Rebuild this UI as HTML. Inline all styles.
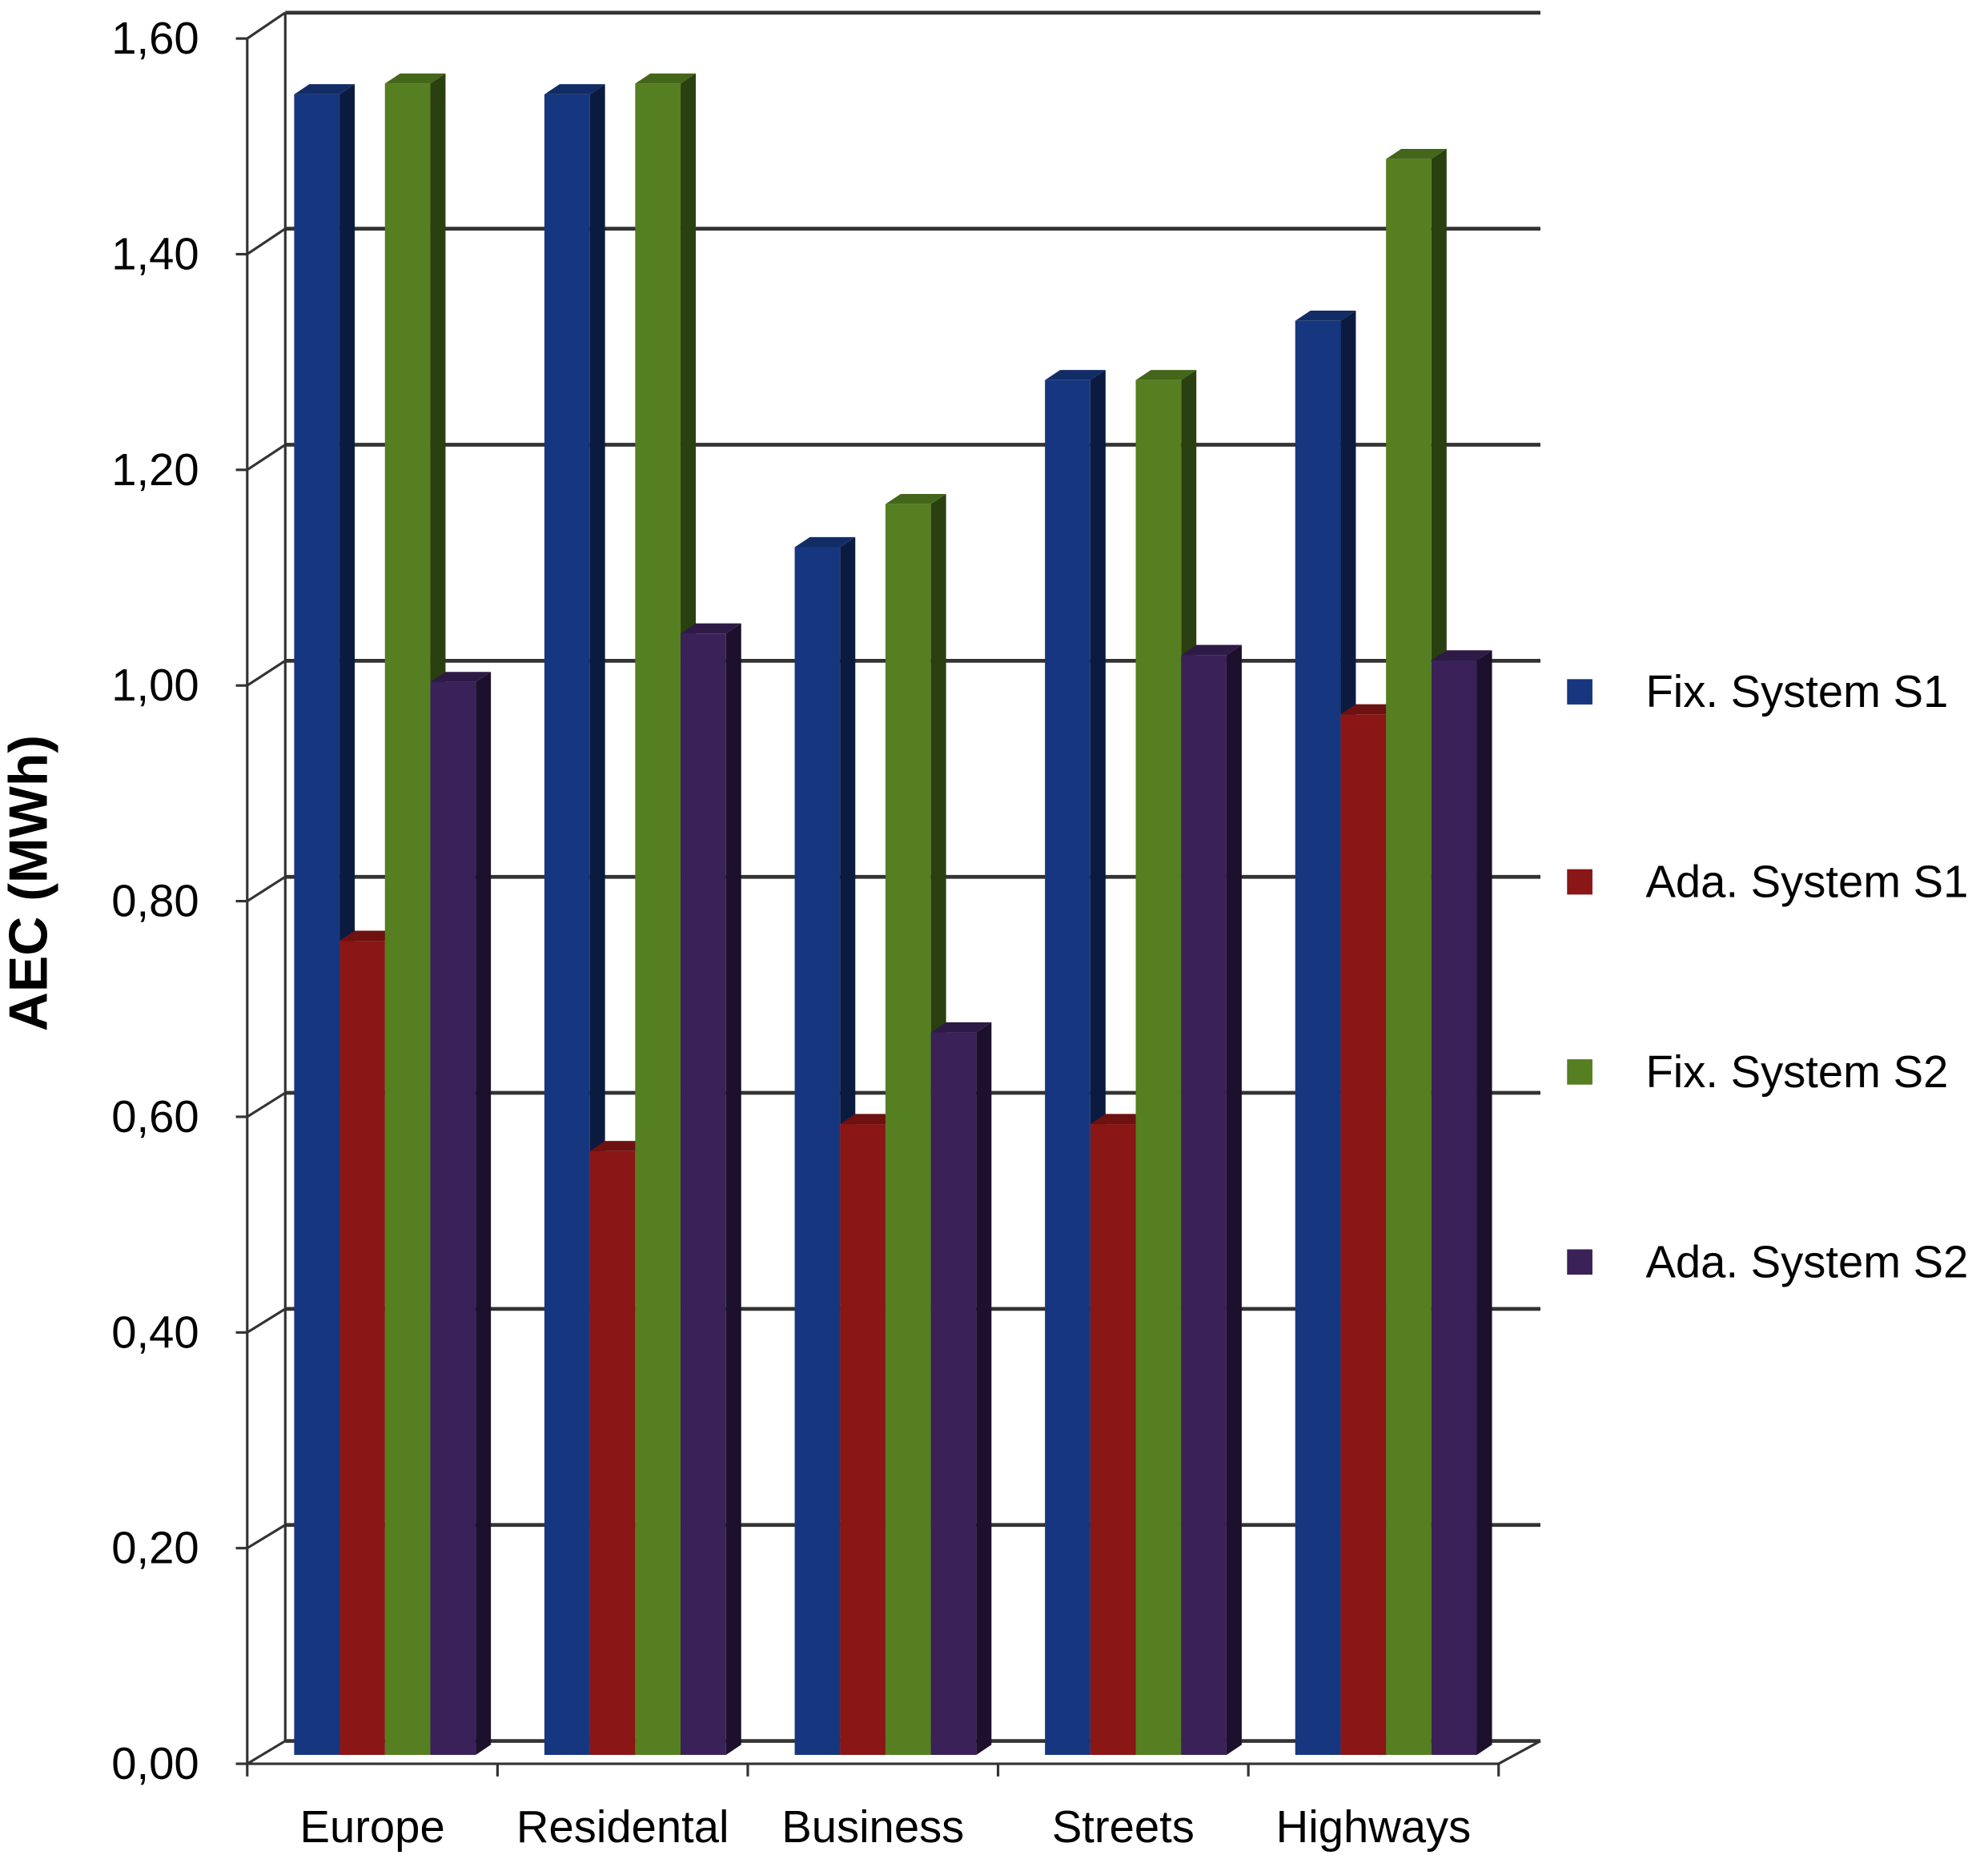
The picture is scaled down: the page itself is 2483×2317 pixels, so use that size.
<!DOCTYPE html>
<html><head><meta charset="utf-8"><style>
html,body{margin:0;padding:0;background:#fff}
svg{display:block}
text{font-family:"Liberation Sans",Arial,sans-serif}
</style></head><body>
<svg id="chart" width="2483" height="2317" viewBox="0 0 1568 1464" preserveAspectRatio="none" xmlns="http://www.w3.org/2000/svg">
<g id="grid"></g>
<g id="axes"></g>
<g id="bars"></g>
<g id="legend"></g>
<text transform="translate(37,697) rotate(-90)" text-anchor="middle" font-size="43" font-weight="bold" fill="#000">AEC (MWh)</text>
</svg>
<script>
const categories=["Europe","Residental","Business","Streets","Highways"];
const seriesNames=["Fix. System S1","Ada. System S1","Fix. System S2","Ada. System S2"];
const fixS1=[1.54,1.54,1.12,1.275,1.33];
const adaS1=[0.755,0.56,0.585,0.585,0.965];
const fixS2=[1.55,1.55,1.16,1.275,1.48];
const adaS2=[0.995,1.04,0.67,1.02,1.015];
const tickValues=[0,0.2,0.4,0.6,0.8,1.0,1.2,1.4,1.6];
const tickLabels=["0,00","0,20","0,40","0,60","0,80","1,00","1,20","1,40","1,60"];
const series=[fixS1,adaS1,fixS2,adaS2];
const fronts=["#16377f","#8a1616","#557f20","#3a2158"];
const sides=["#0b1b40","#450b0b","#2a4010","#1d102c"];
const tops=["#122c66","#6e1111","#44661a","#2e1a46"];
const NS="http://www.w3.org/2000/svg";
function el(tag,attrs,parent){const e=document.createElementNS(NS,tag);for(const k in attrs)e.setAttribute(k,attrs[k]);parent.appendChild(e);return e;}
const yFront=v=>1392-v*851;
const yBack=v=>1374-v*852.5;
const yMid=v=>1385-v*851;
const catX=i=>195+i*197.4;
const grid=document.getElementById('grid'),axes=document.getElementById('axes'),bars=document.getElementById('bars'),legend=document.getElementById('legend');
tickValues.forEach((v,i)=>{
 const g=el('line',{x1:225,x2:1215,y1:yBack(v),y2:yBack(v),stroke:'#333',"stroke-width":3},grid);
 
 const d=el('line',{x1:195,y1:yFront(v),x2:225,y2:yBack(v),stroke:'#333',"stroke-width":2},grid);
 
 const tk=el('line',{x1:186,x2:195,y1:yFront(v),y2:yFront(v),stroke:'#333',"stroke-width":2},axes);
 
 const t=el('text',{x:157,y:yFront(v)+12,"text-anchor":"end","font-size":35.5,fill:'#000'},axes);
 t.textContent=tickLabels[i];
 
});
let a=el('line',{x1:195,y1:yFront(1.6),x2:195,y2:yFront(0),stroke:'#333',"stroke-width":2},axes);

a=el('line',{x1:225,y1:yBack(1.6),x2:225,y2:yBack(0),stroke:'#333',"stroke-width":2},axes);

a=el('polyline',{points:`195,1392 1182,1392 1215,1374`,fill:'none',stroke:'#333',"stroke-width":2},axes);

for(let i=0;i<=categories.length;i++){
 const t=el('line',{x1:catX(i),x2:catX(i),y1:1392,y2:1402,stroke:'#333',"stroke-width":2},axes);
 
}
categories.forEach((c,i)=>{
 const t=el('text',{x:catX(i)+98.7,y:1454,"text-anchor":"middle","font-size":35.5,fill:'#000'},axes);
 t.textContent=c;
 
 const bw=35.8,dx=12,dy=8,x0=catX(i)+37,base=yMid(0);
 series.forEach((s,j)=>{
  const x=x0+j*bw,yt=yMid(s[i]);
  const side=el('polygon',{points:`${x+bw},${yt} ${x+bw+dx},${yt-dy} ${x+bw+dx},${base-dy} ${x+bw},${base}`,fill:sides[j]},bars);
  
  const top=el('polygon',{points:`${x},${yt} ${x+dx},${yt-dy} ${x+bw+dx},${yt-dy} ${x+bw},${yt}`,fill:tops[j]},bars);
  
  const r=el('rect',{x:x,y:yt,width:bw,height:base-yt,fill:fronts[j]},bars);
  
 });
});
seriesNames.forEach((n,j)=>{
 const y=546+j*150;
 const r=el('rect',{x:1236,y:y-10,width:20,height:20,fill:fronts[j]},legend);
 
 const t=el('text',{x:1298,y:y+12,"font-size":35.5,fill:'#000'},legend);
 t.textContent=n;
 
});
</script>
</body></html>
